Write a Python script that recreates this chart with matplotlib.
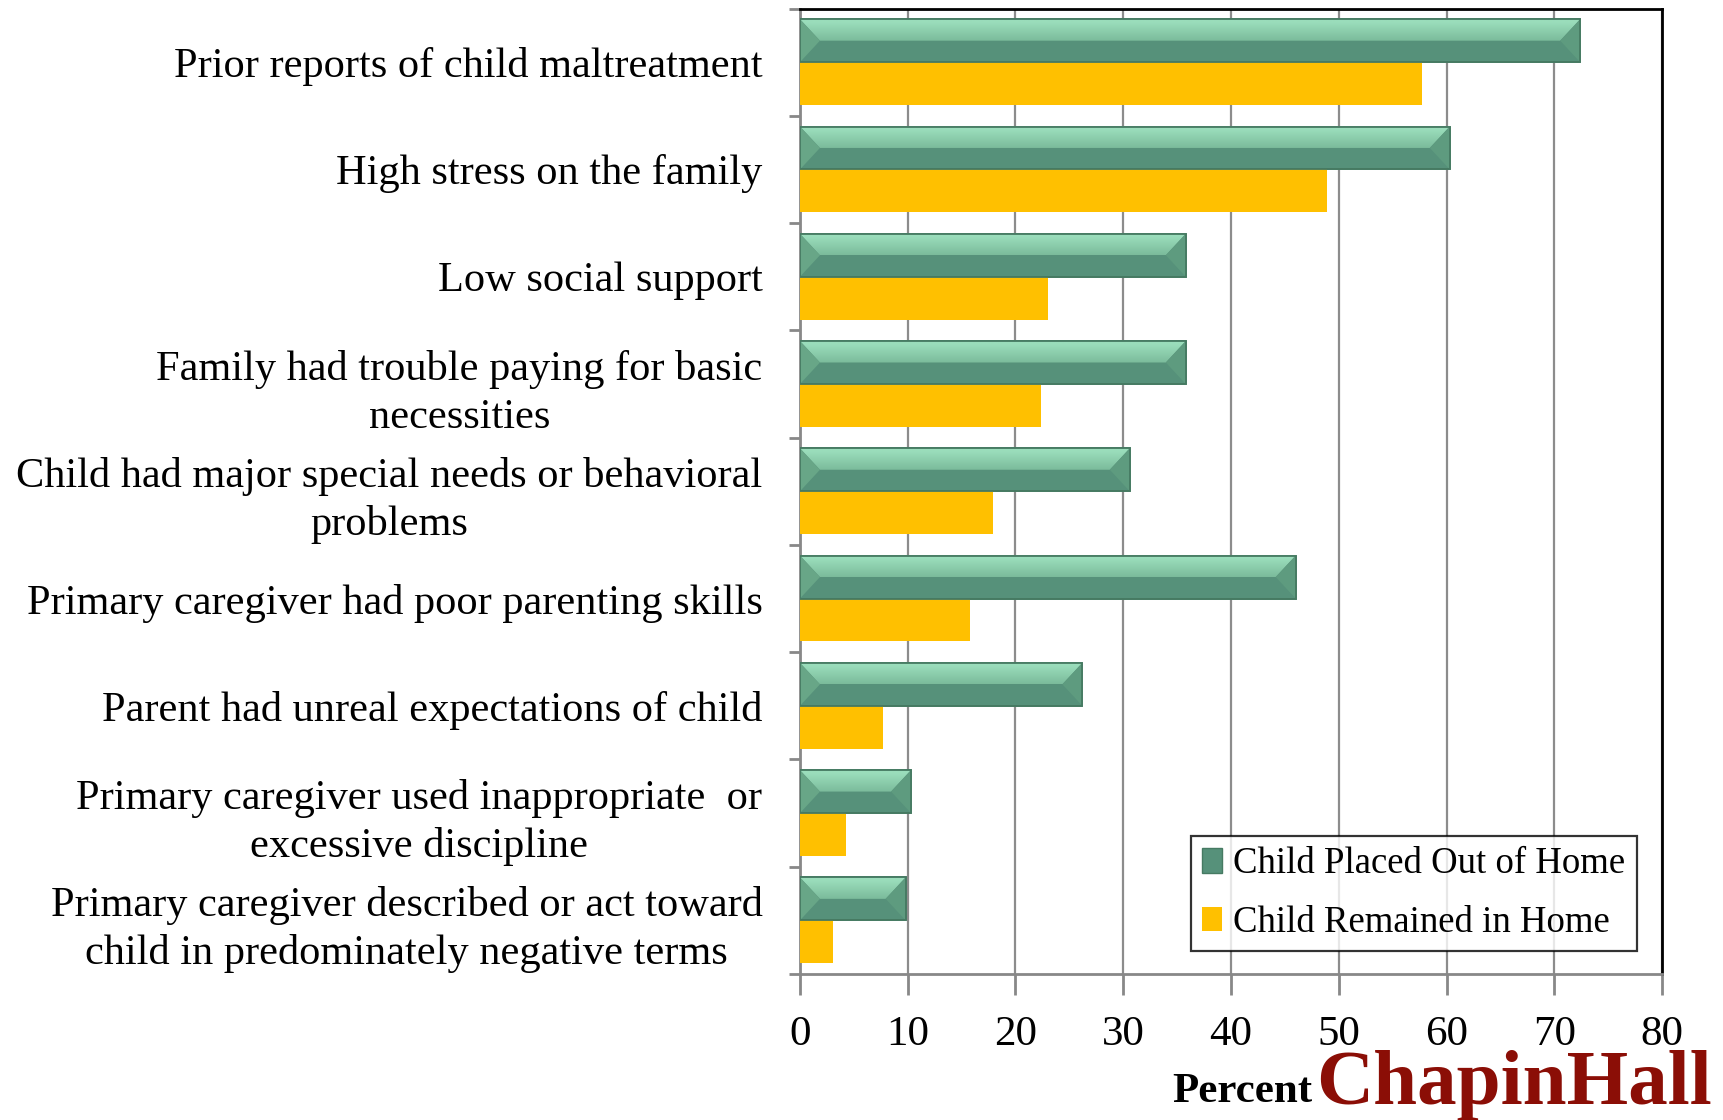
import matplotlib
matplotlib.use("Agg")
import matplotlib.pyplot as plt
import numpy as np
from matplotlib.patches import Polygon, Patch
from matplotlib.colors import to_rgb

categories = [
    "Prior reports of child maltreatment",
    "High stress on the family",
    "Low social support",
    "Family had trouble paying for basic\nnecessities",
    "Child had major special needs or behavioral\nproblems",
    "Primary caregiver had poor parenting skills",
    "Parent had unreal expectations of child",
    "Primary caregiver used inappropriate  or\nexcessive discipline",
    "Primary caregiver described or act toward\nchild in predominately negative terms",
]
placed_out = [72.4, 60.3, 35.8, 35.8, 30.6, 46.0, 26.2, 10.3, 9.8]
remained_home = [57.7, 48.9, 23.0, 22.4, 17.9, 15.8, 7.7, 4.3, 3.1]
xticks = [0, 10, 20, 30, 40, 50, 60, 70, 80]
series_names = ["Child Placed Out of Home", "Child Remained in Home"]

GREEN = "#56917A"
YELLOW = "#FFC000"
SERIF = ["Liberation Serif", "DejaVu Serif"]

fig = plt.figure(figsize=(17.23, 11.2), dpi=100)
ax = fig.add_axes([0.4643, 0.1304, 0.5003, 0.862])

n = len(categories)
pos = np.arange(n)
h = 0.4

gbars = ax.barh(pos - h / 2, placed_out, height=h, color=GREEN,
                edgecolor="#467A62", linewidth=1.2, zorder=3)
ybars = ax.barh(pos + h / 2, remained_home, height=h, color=YELLOW,
                edgecolor="none", zorder=3)

# gradient for the upper bevel face
c_top = np.array(to_rgb("#9ADDBB"))
c_mid = np.array(to_rgb("#7BBB9B"))
tvals = np.linspace(0, 1, 64)
tvals = np.clip((tvals - 0.15) / 0.85, 0, 1)
grad = (c_top[None, :] * (1 - tvals[:, None]) + c_mid[None, :] * tvals[:, None])
grad = np.repeat(grad[:, None, :], 2, axis=1)

bev = 1.85
for b in gbars:
    x0, y0 = b.get_x(), b.get_y()
    w, hh = b.get_width(), b.get_height()
    top = y0
    mid = y0 + 0.5 * hh
    bot = y0 + hh
    poly = Polygon([(x0, top), (x0 + w, top), (x0 + w - bev, mid), (x0 + bev, mid)],
                   closed=True, facecolor="none", edgecolor="none",
                   transform=ax.transData)
    ax.add_patch(poly)
    im = ax.imshow(grad, extent=(x0, x0 + w, mid, top), origin="upper",
                   aspect="auto", interpolation="bilinear", zorder=4)
    im.set_clip_path(poly)
    ax.add_patch(Polygon([(x0, top), (x0 + bev, mid), (x0, bot)], closed=True,
                         facecolor="#68A687", edgecolor="none", zorder=4))
    ax.add_patch(Polygon([(x0 + w, top), (x0 + w - bev, mid), (x0 + w, bot)], closed=True,
                         facecolor="#5E9B7F", edgecolor="none", zorder=4))
    ax.add_patch(Polygon([(x0, top), (x0 + w, top), (x0 + w, bot), (x0, bot)], closed=True,
                         facecolor="none", edgecolor="#467A62", linewidth=1.3, zorder=5))

ax.set_xlim(0, 80)
ax.set_ylim(n - 0.5, -0.5)
ax.set_xticks(xticks)
ax.set_xticklabels([str(t) for t in xticks], fontfamily=SERIF, fontsize=31)
ax.set_yticks(pos)
ax.set_yticklabels(categories, fontfamily=SERIF, fontsize=30.5,
                   multialignment="center", linespacing=1.32)
ax.set_yticks(np.arange(n + 1) - 0.5, minor=True)
ax.tick_params(axis="y", which="major", length=0, pad=27)
ax.tick_params(axis="y", which="minor", length=8, width=2, color="#888888")
ax.tick_params(axis="x", which="major", length=15, width=2, color="#888888", pad=15)

ax.grid(axis="x", color="#8C8C8C", linewidth=1.6, zorder=0)
ax.set_axisbelow(True)
for s in ["left", "bottom"]:
    ax.spines[s].set_color("#888888")
    ax.spines[s].set_linewidth(2)
for s in ["top", "right"]:
    ax.spines[s].set_color("black")
    ax.spines[s].set_linewidth(2)

handles = [Patch(facecolor=GREEN, edgecolor="#467A62", linewidth=1),
           Patch(facecolor=YELLOW, edgecolor="none")]
leg = ax.legend(handles, series_names, loc="lower right",
                bbox_to_anchor=(0.9705, 0.024), prop={"family": SERIF, "size": 26.5},
                frameon=True, fancybox=False, edgecolor="black",
                handlelength=0.55, handleheight=0.65, handletextpad=0.3,
                labelspacing=0.65, borderpad=0.3, borderaxespad=0)
leg.get_frame().set_linewidth(1.6)

fig.text(0.721, 0.016, "Percent", fontfamily=SERIF, fontsize=31, fontweight="bold",
         ha="center", va="baseline")
fig.text(0.9935, 0.014, "ChapinHall", fontfamily=SERIF, fontsize=57, fontweight="bold",
         color="#8B0E06", ha="right", va="baseline")

fig.savefig("out.png", dpi=100)
